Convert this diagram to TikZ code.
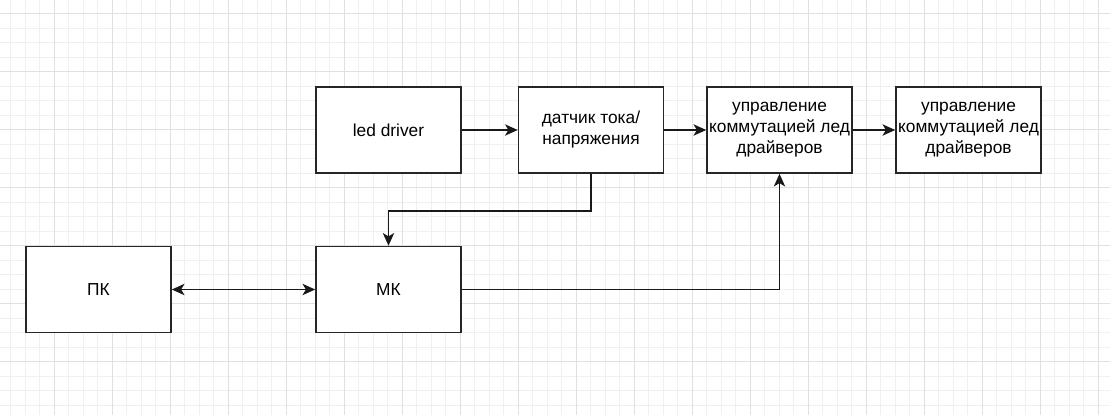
\documentclass[tikz,border=0pt]{standalone}
\usepackage{fontspec}
\setmainfont{Liberation Sans}
\usetikzlibrary{arrows.meta}
\begin{document}
\begin{tikzpicture}[x=0.75pt,y=-0.75pt,
  box/.style={draw=black!85, line width=1.2pt, fill=white, minimum width=108.75pt, minimum height=64.5pt,
    inner sep=0pt, align=center, font=\fontsize{13}{15.75}\selectfont},
  tip/.tip={Stealth[length=9.5pt,width=8.5pt,inset=2.5pt]},
  conn/.style={line width=1.1pt, draw=black!90, -tip},
  minorline/.style={draw=black!6, line width=0.6pt},
  majorline/.style={draw=black!12, line width=0.6pt}]
\useasboundingbox (0,0) rectangle (1110,415);
\fill[white] (0,0) rectangle (1110,415);
% grid
\foreach \i in {0,...,75} { \draw[minorline] ({10.5+14.5*\i},0) -- ({10.5+14.5*\i},415); }
\foreach \i in {0,...,27} { \draw[minorline] (0,{13.5+14.5*\i}) -- (1110,{13.5+14.5*\i}); }
\foreach \i in {0,...,18} { \draw[majorline] ({54+58*\i},0) -- ({54+58*\i},415); }
\foreach \i in {0,...,6} { \draw[majorline] (0,{13.5+58*\i}) -- (1110,{13.5+58*\i}); }
% nodes
\node[box] (led) at (388.5,130) {led driver};
\node[box] (dat) at (591,130) {датчик тока/\\напряжения};
\node[box] (up1) at (779.5,130) {управление\\коммутацией лед\\драйверов};
\node[box] (up2) at (968.5,130) {управление\\коммутацией лед\\драйверов};
\node[box] (pk) at (98.5,289.5) {ПК};
\node[box] (mk) at (388.5,289.5) {МК};
% connectors
\draw[conn] (led.east) -- (dat.west);
\draw[conn] (dat.east) -- (up1.west);
\draw[conn] (up1.east) -- (up2.west);
\draw[conn] (dat.south) -- ++(0,37) -| (mk.north);
\draw[conn] (mk.east) -| (up1.south);
\draw[conn, tip-tip] (pk.east) -- (mk.west);
\end{tikzpicture}
\end{document}
